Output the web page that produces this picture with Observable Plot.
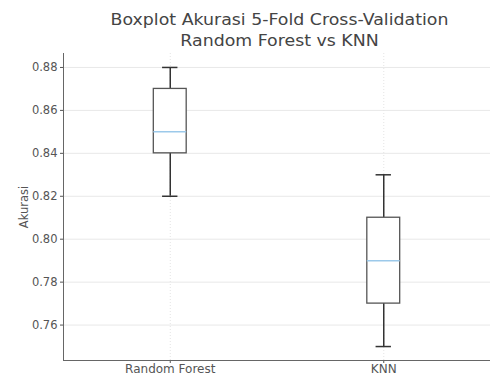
<!DOCTYPE html>
<html>
<head>
<meta charset="utf-8">
<script src="https://cdn.jsdelivr.net/npm/d3@7"></script>
<script src="https://cdn.jsdelivr.net/npm/@observablehq/plot@0.6"></script>
<style>
  body { margin: 0; background: #fff; font-family: "DejaVu Sans", sans-serif; overflow: hidden; }
  #title { width: 495px; height: 52px; position: relative; }
  #title div { position: absolute; left: 56px; right: -8px; text-align: center; font-size: 15.5px; line-height: 21px; color: #444; white-space: nowrap; transform: scaleX(1.12); transform-origin: center top; }
</style>
</head>
<body>
<div id="title"><div style="top:10px">Boxplot Akurasi 5-Fold Cross-Validation</div><div style="top:31px">Random Forest vs KNN</div></div>
<div id="chart"></div>
<script>
const models = ["Random Forest", "KNN"];
const whiskerLow = [0.82, 0.75];
const q1 = [0.84, 0.77];
const median = [0.85, 0.79];
const q3 = [0.87, 0.81];
const whiskerHigh = [0.88, 0.83];
const yTicks = [0.76, 0.78, 0.80, 0.82, 0.84, 0.86, 0.88];

const data = models.map((m, i) => ({
  model: m, pos: i + 1,
  lo: whiskerLow[i], q1: q1[i], med: median[i], q3: q3[i], hi: whiskerHigh[i]
}));
const boxHalf = 0.077, capHalf = 0.036;

const plot = Plot.plot({
  width: 495, height: 324,
  marginLeft: 63, marginRight: 5, marginTop: 1, marginBottom: 16,
  style: { fontFamily: "DejaVu Sans, sans-serif", fontSize: "12px", color: "#555", background: "#fff" },
  x: { domain: [0.5, 2.5] },
  y: { domain: [0.7435, 0.8865] },
  marks: [
    Plot.ruleY(yTicks, { stroke: "#e8e8e8", strokeWidth: 1 }),
    Plot.ruleX(data, { x: "pos", stroke: "#e4e4e4", strokeDasharray: "1,2" }),
    Plot.ruleX(data, { x: "pos", y1: "lo", y2: "q1", stroke: "#333", strokeWidth: 1.5 }),
    Plot.ruleX(data, { x: "pos", y1: "q3", y2: "hi", stroke: "#333", strokeWidth: 1.5 }),
    Plot.ruleY(data, { y: "lo", x1: d => d.pos - capHalf, x2: d => d.pos + capHalf, stroke: "#333", strokeWidth: 1.5 }),
    Plot.ruleY(data, { y: "hi", x1: d => d.pos - capHalf, x2: d => d.pos + capHalf, stroke: "#333", strokeWidth: 1.5 }),
    Plot.rect(data, { x1: d => d.pos - boxHalf, x2: d => d.pos + boxHalf, y1: "q1", y2: "q3", fill: "#fff", stroke: "#555", strokeWidth: 1.3 }),
    Plot.ruleY(data, { y: "med", x1: d => d.pos - boxHalf, x2: d => d.pos + boxHalf, stroke: "#9cc9ea", strokeWidth: 1.5 }),
    Plot.axisY({ ticks: yTicks, tickFormat: d => d.toFixed(2), tickSize: 3, tickPadding: 3, stroke: "#555", fontSize: 11.5,
      label: "Akurasi", labelAnchor: "center", labelArrow: "none", labelOffset: 44 }),
    Plot.axisX({ ticks: data.map(d => d.pos), tickFormat: p => models[p - 1], tickSize: 3, tickPadding: 1, label: null, stroke: "#555" }),
    Plot.ruleX([0.5], { stroke: "#666", strokeWidth: 1 }),
    Plot.ruleY([0.7435], { stroke: "#666", strokeWidth: 1 })
  ]
});
document.getElementById("chart").appendChild(plot);
</script>
</body>
</html>
